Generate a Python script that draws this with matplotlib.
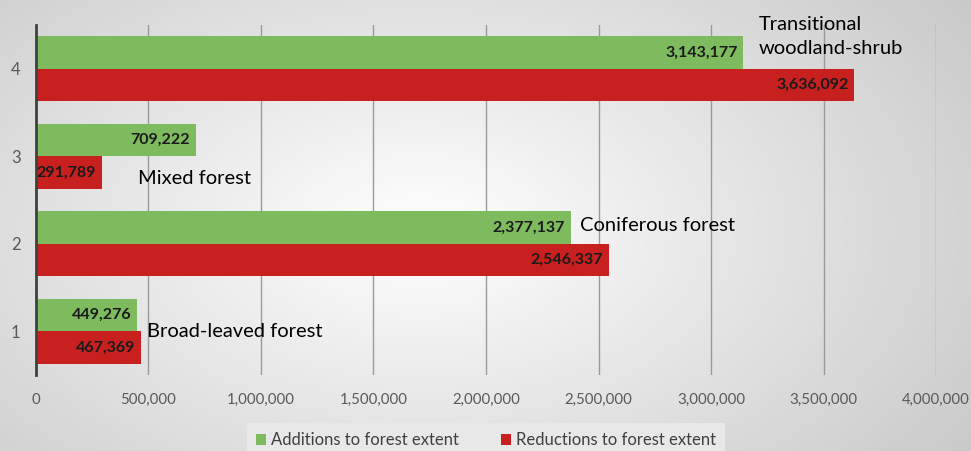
import numpy as np
import matplotlib.pyplot as plt

categories = [1, 2, 3, 4]
additions = [449276, 2377137, 709222, 3143177]
reductions = [467369, 2546337, 291789, 3636092]
forest_types = ["Broad-leaved forest", "Coniferous forest", "Mixed forest",
                "Transitional\nwoodland-shrub"]
xticks = [0, 500000, 1000000, 1500000, 2000000, 2500000, 3000000, 3500000, 4000000]

green = "#7ebb5f"
red = "#c8201f"
plt.rcParams['font.family'] = ['Lato', 'DejaVu Sans']

fig = plt.figure(figsize=(9.71, 4.51), dpi=100)

# soft radial background
bg = fig.add_axes([0, 0, 1, 1], zorder=-10)
yy, xx = np.mgrid[0:451, 0:971]
r = np.sqrt(((xx - 420) / 700.0) ** 2 + ((yy - 230) / 420.0) ** 2)
shade = np.clip(1.0 - 0.22 * r, 0, 1)
bg.imshow(np.dstack([shade, shade, shade]), aspect='auto')
bg.axis('off')

ax = fig.add_axes([0.037, 0.1685, 0.927, 0.776])
ax.patch.set_alpha(0)

y = np.array(categories, dtype=float)
h = 0.37
ax.barh(y + h / 2, additions, height=h, color=green, label="Additions to forest extent", zorder=3)
ax.barh(y - h / 2, reductions, height=h, color=red, label="Reductions to forest extent", zorder=3)

for yi, a, r_ in zip(y, additions, reductions):
    ax.text(a - 25000, yi + h / 2, f"{a:,}", ha='right', va='center',
            fontsize=11.5, fontweight='bold', color='#1a1a1a', zorder=4)
    ax.text(r_ - 25000, yi - h / 2, f"{r_:,}", ha='right', va='center',
            fontsize=11.5, fontweight='bold', color='#1a1a1a', zorder=4)

# category names placed next to the bars
label_pos = [(495000, 1.0), (2420000, 2.21), (455000, 2.75), (3210000, 4.37)]
for name, (lx, ly) in zip(forest_types, label_pos):
    ax.text(lx, ly, name, ha='left', va='center', fontsize=14.5, color='black',
            linespacing=1.45, zorder=5)

ax.set_xlim(0, 4000000)
ax.set_ylim(0.5, 4.5)
ax.set_xticks(xticks)
ax.set_xticklabels([f"{t:,}" for t in xticks])
ax.set_yticks(categories)
ax.tick_params(length=0, labelcolor='#595959')
ax.tick_params(axis='x', pad=13, labelsize=10.8)
ax.tick_params(axis='y', pad=11, labelsize=12)
ax.grid(axis='x', color='#9a9a9a', linewidth=1, zorder=0)
for s in ['top', 'right', 'bottom']:
    ax.spines[s].set_visible(False)
ax.spines['left'].set_color('#404040')
ax.spines['left'].set_linewidth(2)
ax.spines['left'].set_zorder(6)

leg = ax.legend(loc='lower center', bbox_to_anchor=(0.5, -0.25), ncol=2,
                frameon=True, fontsize=12, handlelength=0.6, handleheight=0.7,
                handletextpad=0.3, columnspacing=2.5, borderpad=0.35)
leg.get_frame().set_facecolor('#e8e8e8')
leg.get_frame().set_edgecolor('none')
leg.get_frame().set_alpha(1)
leg.get_frame().set_boxstyle('square', pad=0.2)
for t in leg.get_texts():
    t.set_color('#404040')

fig.savefig("out.png", dpi=100)
